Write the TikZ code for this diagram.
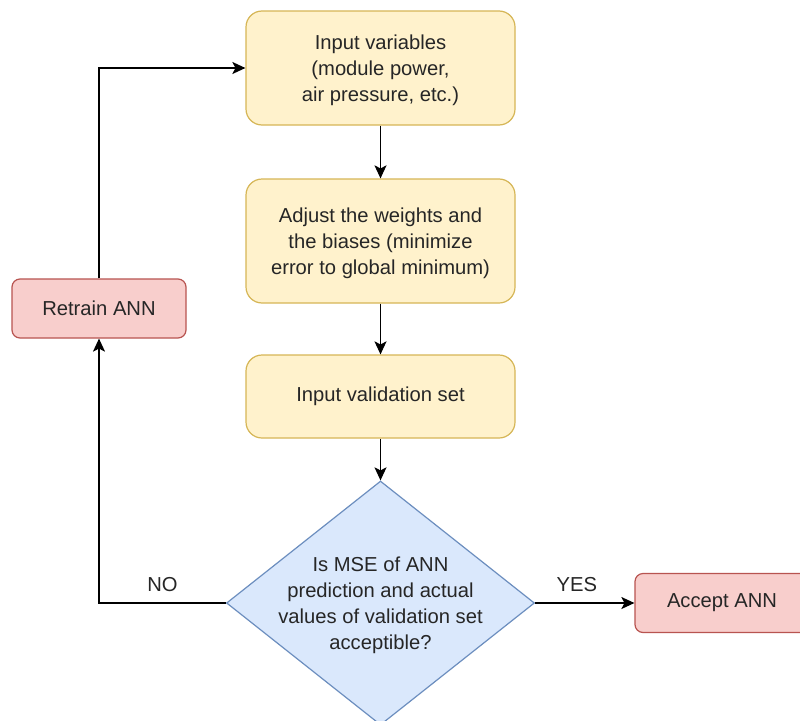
\documentclass[tikz,border=0pt]{standalone}
\usepackage{fontspec}
\setmainfont{Liberation Sans}
\usetikzlibrary{shapes.geometric,arrows.meta}
\definecolor{yfill}{HTML}{FFF2CC}
\definecolor{ydraw}{HTML}{D6B656}
\definecolor{bfill}{HTML}{DAE8FC}
\definecolor{bdraw}{HTML}{6C8EBF}
\definecolor{rfill}{HTML}{F8CECC}
\definecolor{rdraw}{HTML}{B85450}
\definecolor{txt}{HTML}{262626}
\begin{document}
\begin{tikzpicture}[x=1pt,y=-1pt,
  every node/.style={font=\fontsize{20.2}{26}\selectfont, text=txt, align=center},
  ybox/.style={draw=ydraw, fill=yfill, line width=1.2pt, rounded corners=16pt, minimum width=269pt, inner sep=0pt},
  rbox/.style={draw=rdraw, fill=rfill, line width=1.2pt, rounded corners=8pt, minimum width=174pt, minimum height=59pt, inner sep=0pt},
  dia/.style={draw=bdraw, fill=bfill, line width=1.2pt, shape=diamond, minimum width=308pt, minimum height=244pt, inner sep=0pt},
  conn/.style={line width=1.3pt, draw=black, -{Stealth[length=13pt,width=12pt,inset=3pt]}},
  lbl/.style={font=\fontsize{20.2}{22}\selectfont}]
\clip (0,0) rectangle (800,720);
\fill[white] (0,0) rectangle (800,720);
\node[ybox, minimum height=114pt] (iv) at (380.5,68) {\strut Input variables\\(module power,\\air pressure, etc.)};
\node[ybox, minimum height=124pt] (aw) at (380.5,241) {\strut Adjust the weights and\\the biases (minimize\\error to global minimum)};
\node[ybox, minimum height=83pt] (vs) at (380.5,396.5) {Input validation set};
\node[dia] (dc) at (380.5,603) {};
\node at (380.5,605) {Is MSE of ANN\\prediction and actual\\values of validation set\\acceptible?};
\node[rbox] (rt) at (99,308.5) {Retrain ANN};
\node[rbox] (ac) at (722,603) {Accept ANN};
\draw[conn] (iv) -- (aw);
\draw[conn] (aw) -- (vs);
\draw[conn] (vs) -- (dc);
\draw[conn] (dc.east) -- node[lbl, above=7pt, pos=0.42] {YES} (ac.west);
\draw[conn] (dc.west) -| node[lbl, above=7pt, pos=0.25] {NO} (rt.south);
\draw[conn] (rt.north) |- (iv.west);
\end{tikzpicture}
\end{document}
